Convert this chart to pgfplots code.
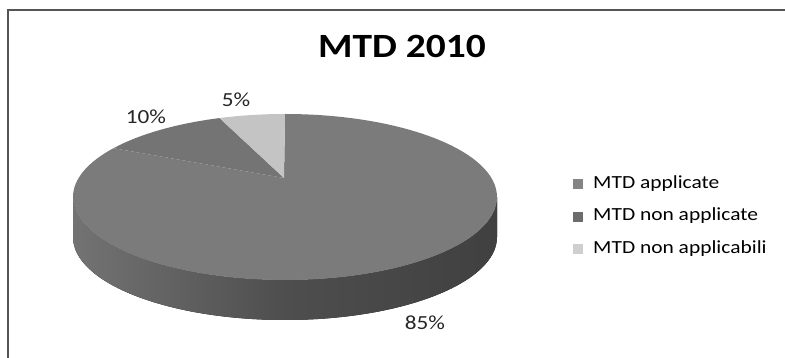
\documentclass[border=0pt]{standalone}
\usepackage{fontspec}
\setmainfont{Carlito}[FakeStretch=1.16]
\usepackage{pgfplots}
\usepackage{pgfplotstable}
\pgfplotsset{compat=1.18}

\definecolor{sliceA}{HTML}{7B7B7B}
\definecolor{sliceB}{HTML}{747474}
\definecolor{sliceC}{HTML}{C4C4C4}
\definecolor{sideL}{HTML}{737373}
\definecolor{sideM}{HTML}{4E4E4E}
\definecolor{sideR}{HTML}{404040}
\definecolor{legA}{HTML}{858585}
\definecolor{legB}{HTML}{6C6C6C}
\definecolor{legC}{HTML}{CFCFCF}
\definecolor{frameC}{HTML}{555555}

% shares of the three categories (percent)
\pgfplotstableread{
share
85
10
5
}\piedata

\begin{document}
\pgfplotstablegetelem{0}{share}\of\piedata \xdef\va{\pgfplotsretval}%
\pgfplotstablegetelem{1}{share}\of\piedata \xdef\vb{\pgfplotsretval}%
\pgfplotstablegetelem{2}{share}\of\piedata \xdef\vc{\pgfplotsretval}%
% slice boundaries: start at 12 o'clock, run clockwise
\pgfmathsetmacro\ta{90-3.6*\va}\xdef\ta{\ta}%
\pgfmathsetmacro\tb{\ta-3.6*\vb}\xdef\tb{\tb}%
\pgfmathsetmacro\tc{\tb-3.6*\vc}\xdef\tc{\tc}%
\begin{tikzpicture}
\begin{axis}[
  scale only axis, width=785pt, height=358pt,
  xmin=0, xmax=785, ymin=0, ymax=358,
  hide axis, clip=false,
  legend image code/.code={\path[#1] (0pt,-5pt) rectangle (10pt,5pt);},
  legend cell align=left,
  legend style={draw=none, fill=none, inner sep=0pt,
    font=\fontsize{18.5}{22}\selectfont, row sep=16.5pt, column sep=10pt,
    nodes={inner sep=0pt, text height=12pt, text depth=4pt},
    at={(axis cs:573,182)}, anchor=north west},
]
% chart frame
\draw[frameC, line width=1.2pt] (axis cs:8,0) -- (axis cs:8,348) -- (axis cs:785,348);

% title
\node[font=\bfseries\fontsize{34}{38}\selectfont] at (axis cs:402,312) {MTD 2010};

% pie side (front half of the cylinder)
\fill[left color=sideL, right color=sideR, middle color=sideM]
  (axis cs:73,161) arc[start angle=180, end angle=360, x radius=212pt, y radius=83pt]
  -- ++(0pt,-40pt)
  arc[start angle=0, end angle=-180, x radius=212pt, y radius=83pt] -- cycle;

% top faces of the slices
\fill[sliceA] (axis cs:284,180) -- (axis cs:285,244)
  arc[start angle=90, end angle=\ta, x radius=212pt, y radius=83pt] -- cycle;
\fill[sliceB] (axis cs:284,180) -- (axis cs:{285+212*cos(\ta)},{161+83*sin(\ta)})
  arc[start angle=\ta, end angle=\tb, x radius=212pt, y radius=83pt] -- cycle;
\fill[sliceC] (axis cs:284,180) -- (axis cs:{285+212*cos(\tb)},{161+83*sin(\tb)})
  arc[start angle=\tb, end angle=\tc, x radius=212pt, y radius=83pt] -- cycle;

% data labels
\node[font=\fontsize{20}{24}\selectfont, text=black!85] at (axis cs:425,35) {\va\%};
\node[font=\fontsize{20}{24}\selectfont, text=black!85] at (axis cs:146,241) {\vb\%};
\node[font=\fontsize{20}{24}\selectfont, text=black!85] at (axis cs:236,258) {\vc\%};

% legend
\addlegendimage{fill=legA, draw=none}
\addlegendentry{MTD applicate}
\addlegendimage{fill=legB, draw=none}
\addlegendentry{MTD non applicate}
\addlegendimage{fill=legC, draw=none}
\addlegendentry{MTD non applicabili}
\end{axis}
\pgfresetboundingbox
\path[use as bounding box] (current axis.south west) rectangle (current axis.north east);
\end{tikzpicture}
\end{document}
